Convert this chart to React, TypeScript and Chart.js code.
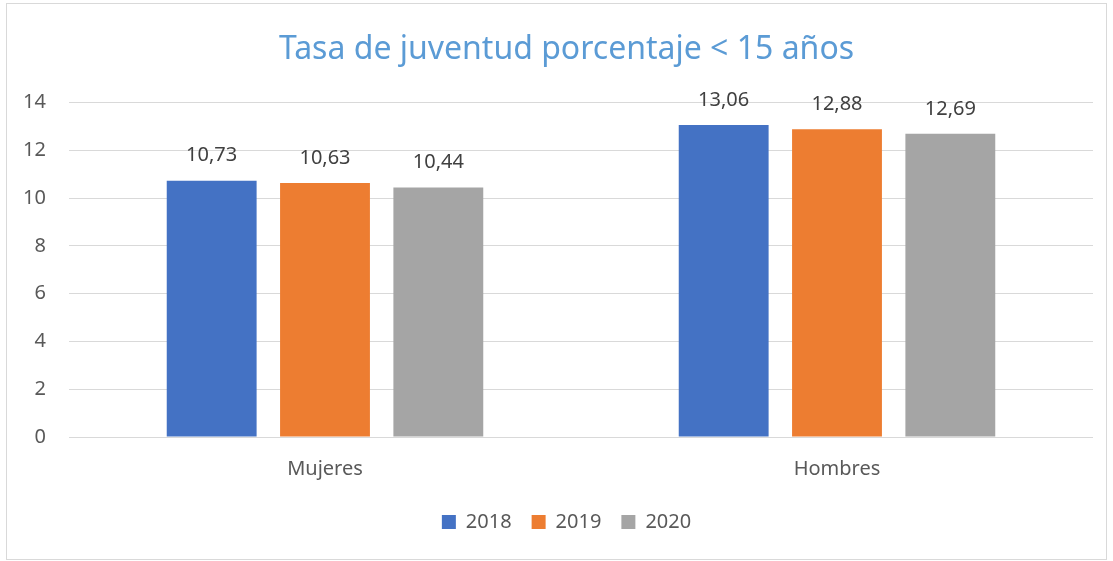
import React, { useEffect, useRef } from "react";
import { Chart, registerables } from "chart.js";

Chart.register(...registerables);

const categories = ["Mujeres", "Hombres"];
const seriesNames = ["2018", "2019", "2020"];
const values2018 = [10.73, 13.06];
const values2019 = [10.63, 12.88];
const values2020 = [10.44, 12.69];
const yTicks = [0, 2, 4, 6, 8, 10, 12, 14];

const FONT = "'Noto Sans', sans-serif";

const borderPlugin = {
  id: "frameBorder",
  beforeDraw(chart: any) {
    const ctx = chart.ctx;
    ctx.save();
    ctx.fillStyle = "#ffffff";
    ctx.fillRect(0, 0, chart.width, chart.height);
    ctx.strokeStyle = "#d9d9d9";
    ctx.lineWidth = 1;
    ctx.strokeRect(6.5, 3.5, 1100, 556);
    ctx.restore();
  },
};

const centerShiftPlugin = {
  id: "centerShift",
  afterLayout(chart: any) {
    const shift = 20;
    if (chart.titleBlock) {
      chart.titleBlock.left += shift;
      chart.titleBlock.right += shift;
    }
    if (chart.legend) {
      chart.legend.left += shift;
      chart.legend.right += shift;
    }
  },
};

const valueLabelPlugin = {
  id: "valueLabels",
  afterDatasetsDraw(chart: any) {
    const ctx = chart.ctx;
    ctx.save();
    ctx.font = `20px ${FONT}`;
    ctx.fillStyle = "#404040";
    ctx.textAlign = "center";
    ctx.textBaseline = "middle";
    chart.data.datasets.forEach((ds: any, i: number) => {
      const meta = chart.getDatasetMeta(i);
      meta.data.forEach((el: any, j: number) => {
        const v = ds.data[j] as number;
        ctx.fillText(v.toFixed(2).replace(".", ","), el.x, el.y - 25);
      });
    });
    ctx.restore();
  },
};

export default function App() {
  const ref = useRef<HTMLCanvasElement | null>(null);

  useEffect(() => {
    if (!ref.current) return;
    const colors = ["#4472C4", "#ED7D31", "#A5A5A5"];
    const allValues = [values2018, values2019, values2020];
    const chart = new Chart(ref.current, {
      type: "bar",
      data: {
        labels: categories,
        datasets: seriesNames.map((name, i) => ({
          label: name,
          data: allValues[i],
          backgroundColor: colors[i],
          borderWidth: 0,
          categoryPercentage: 0.664,
          barPercentage: 0.793,
        })),
      },
      options: {
        responsive: false,
        animation: false,
        layout: { padding: { left: 0, right: 20, top: 0, bottom: 19 } },
        plugins: {
          title: {
            display: true,
            text: "Tasa de juventud porcentaje < 15 años",
            color: "#5B9BD5",
            font: { family: FONT, size: 32, weight: "normal" },
            padding: { top: 30.8, bottom: 33.3 },
          },
          legend: {
            display: true,
            position: "bottom",
            labels: {
              color: "#595959",
              font: { family: FONT, size: 20 },
              boxWidth: 14,
              boxHeight: 14,
              padding: 20,
            },
          },
          tooltip: { enabled: false },
        },
        scales: {
          x: {
            grid: { display: false, drawTicks: false },
            border: { display: false },
            ticks: {
              color: "#595959",
              font: { family: FONT, size: 20 },
              padding: 20,
            },
            afterFit(scale: any) {
              scale.height = 55;
            },
          },
          y: {
            min: 0,
            max: 14,
            afterBuildTicks(scale: any) {
              scale.ticks = yTicks.map((v) => ({ value: v }));
            },
            grid: { color: "#d9d9d9", lineWidth: 1, drawTicks: false },
            border: { display: false },
            ticks: {
              color: "#595959",
              font: { family: FONT, size: 20 },
              padding: 23,
            },
            afterFit(scale: any) {
              scale.width = 69;
            },
          },
        },
      },
      plugins: [borderPlugin, centerShiftPlugin, valueLabelPlugin],
    });
    return () => chart.destroy();
  }, []);

  return (
    <div style={{ position: "fixed", left: 0, top: 0, width: 1113, height: 561 }}>
      <canvas ref={ref} width={1113} height={561} />
    </div>
  );
}
